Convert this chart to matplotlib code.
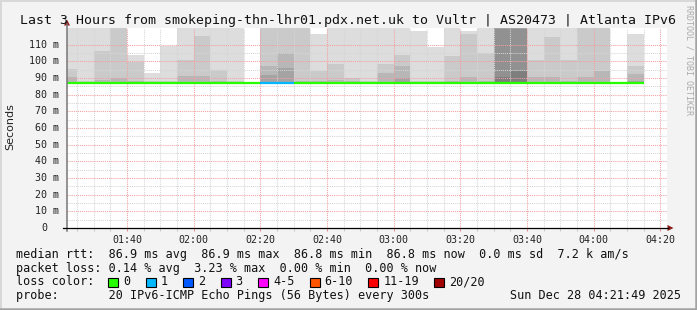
"""
SmokePing style latency chart (last 3 hours, smoke + median rtt).
Writes out.png at 697x310.
"""

import matplotlib

matplotlib.use("Agg")
import matplotlib.pyplot as plt
import numpy as np
from matplotlib.lines import Line2D
from matplotlib.patches import Polygon, Rectangle

nan = np.nan
W, H = 697, 310
MONO = "DejaVu Sans Mono"

# --- data ---------------------------------------------------------------
# 5-minute step start times (minutes after midnight)
step_times = ["01:20", "01:25", "01:30", "01:35", "01:40", "01:45", "01:50",
              "01:55", "02:00", "02:05", "02:10", "02:15", "02:20", "02:25",
              "02:30", "02:35", "02:40", "02:45", "02:50", "02:55", "03:00",
              "03:05", "03:10", "03:15", "03:20", "03:25", "03:30", "03:35",
              "03:40", "03:45", "03:50", "03:55", "04:00", "04:05", "04:10"]

# smoke layer tops in ms (outermost pair of pings first); 130 = off the top
smoke_1 = [130, 130, 130, 130, 104, 93, 109, 130, 130, 130, 130, nan, 130, 130,
           130, 116.5, 130, 130, 130, 130, 130, 118, 108.5, 130, 118, 130, 130,
           130, 130, 130, 130, 130, 130, nan, 116.4]
smoke_2 = [95.5, 88, 106, 130, 99.5, 88, 88, 101, 115, 95, 88, nan, 130, 130,
           130, 94, 98.6, 90, 88, 98.5, 104, 88, 88.5, 103, 116.5, 105, 130,
           130, 101, 114.7, 101, 130, 130, nan, 97.5]
smoke_3 = [90.5, nan, 89, 90, 88.5, nan, nan, 91, 91, 88.5, nan, nan, 97, 105,
           88, 88, 89, 88.5, nan, 93, 97, nan, nan, 88.5, 90.5, 88.5, 130, 130,
           90.5, 90.5, 88.5, 90.5, 94, nan, 92.5]
smoke_4 = [nan, nan, nan, nan, nan, nan, nan, nan, nan, nan, nan, nan, 92, 96,
           nan, nan, nan, nan, nan, nan, 90, nan, nan, nan, nan, nan, 130, 130,
           nan, nan, nan, nan, nan, nan, 88.5]
smoke_5 = [nan] * 26 + [119.3, 119.5] + [nan] * 7
smoke_6 = [nan] * 26 + [90.5, 94] + [nan] * 7
smoke_min = 86.8

median_rtt = [86.9, 86.9, 86.9, 86.9, 86.9, 86.9, 86.9, 86.9, 86.9, 86.9, 86.9,
              86.9, 86.9, 86.9, 86.9, 86.9, 86.9, 86.9, 86.9, 86.9, 86.9, 86.9,
              86.9, 86.9, 86.9, 86.9, 86.9, 86.9, 86.9, 86.9, 86.9, 86.9, 86.9,
              86.9, 86.8]
lost_pings = [0, 0, 0, 0, 0, 0, 0, 0, 0, 0, 0, 0, 1, 1, 0, 0, 0, 0, 0, 0, 0, 0,
              0, 0, 0, 0, 0, 0, 0, 0, 0, 0, 0, 0, 0]

loss_labels = ["0", "1", "2", "3", "4-5", "6-10", "11-19", "20/20"]
loss_colours = ["#26ff00", "#00b8ff", "#0059ff", "#7e00ff", "#ff00ff",
                "#ff5500", "#ff0000", "#a10000"]
loss_upper = [0, 1, 2, 3, 5, 10, 19, 20]

time_ticks = ["01:40", "02:00", "02:20", "02:40", "03:00", "03:20", "03:40",
              "04:00", "04:20"]
y_ticks = [10, 20, 30, 40, 50, 60, 70, 80, 90, 100, 110]

t_start, t_end = "01:22", "04:22"

title = ("Last 3 Hours from smokeping-thn-lhr01.pdx.net.uk to Vultr | "
         "AS20473 | Atlanta IPv6")
stats_rtt = ("median rtt:  86.9 ms avg  86.9 ms max  86.8 ms min  "
             "86.8 ms now  0.0 ms sd  7.2 k am/s")
stats_loss = "packet loss: 0.14 % avg  3.23 % max  0.00 % min  0.00 % now"
probe_text = "probe:       20 IPv6-ICMP Echo Pings (56 Bytes) every 300s"
stamp = "Sun Dec 28 04:21:49 2025"


def minutes(hhmm: str) -> float:
    h, m = hhmm.split(":")
    return int(h) * 60 + int(m)


def loss_colour(n: int) -> str:
    for up, c in zip(loss_upper, loss_colours):
        if n <= up:
            return c
    return loss_colours[-1]


def px(x: float, y: float):
    # pixel position (from top-left) -> figure fraction
    return x / W, 1 - y / H


# --- figure ------------------------------------------------------------
fig = plt.figure(figsize=(W / 100, H / 100), dpi=100, facecolor="#f3f3f3")
ax = fig.add_axes([67 / W, (H - 228) / H, 600 / W, 200 / H])
ax.set_facecolor("white")

x = np.array([minutes(t) for t in step_times], dtype=float)
greys = ["#dddddd", "#cacaca", "#b7b7b7", "#a4a4a4", "#919191", "#7e7e7e"]
for tops, colour in zip([smoke_1, smoke_2, smoke_3, smoke_4, smoke_5, smoke_6], greys):
    tops = np.array(tops, dtype=float)
    ok = ~np.isnan(tops)
    ax.bar(x[ok], tops[ok] - smoke_min, bottom=smoke_min, width=5, align="edge",
           color=colour, linewidth=0, antialiased=False, zorder=1)

ax.hlines(median_rtt, x, x + 5, colors=[loss_colour(n) for n in lost_pings],
          linewidth=1.6, zorder=3)

ax.set_xlim(minutes(t_start), minutes(t_end))
ax.set_ylim(0, 120)

ax.set_xticks([minutes(t) for t in time_ticks], time_ticks)
ax.set_xticks(np.arange(minutes("01:25"), minutes(t_end), 5), minor=True)
ax.set_yticks(y_ticks, [""] * len(y_ticks))
ax.set_yticks(np.array(y_ticks) - 5, minor=True)

ax.set_axisbelow(False)
ax.grid(which="major", color="#f2a0a0", linestyle=(0, (1, 1)), linewidth=0.75)
ax.grid(which="minor", color="#d6d6d6", linestyle=(0, (1, 1)), linewidth=0.75)
for s in ax.spines.values():
    s.set_visible(False)

ax.tick_params(axis="x", which="major", length=2, width=0.75, color="#e89090",
               pad=2.9, labelsize=7.2, labelcolor="#222222")
ax.tick_params(axis="x", which="minor", length=2, width=0.75, color="#c8c8c8")
ax.tick_params(axis="y", which="both", length=0)
for lab in ax.get_xticklabels():
    lab.set_family(MONO)

ytf = ax.get_yaxis_transform()
for v in y_ticks:
    ax.text(-8 / 600, v, f"{v} m", transform=ytf, ha="right", va="center",
            family=MONO, fontsize=7.2, color="#222222")
ax.text(-20 / 600, 0, "0", transform=ytf, ha="right", va="center",
        family=MONO, fontsize=7.2, color="#222222")

# axis lines with arrow heads
fig.add_artist(Line2D(*zip(px(67, 231), px(67, 24)), transform=fig.transFigure,
                      color="#777777", linewidth=1.1))
fig.add_artist(Line2D(*zip(px(63, 228), px(668, 228)), transform=fig.transFigure,
                      color="black", linewidth=0.9))
fig.add_artist(Polygon([px(64, 25.5), px(70, 25.5), px(67, 19.5)], closed=True,
                       transform=fig.transFigure, color="#8b1a1a", linewidth=0))
fig.add_artist(Polygon([px(667.5, 225), px(667.5, 231), px(673.5, 228)], closed=True,
                       transform=fig.transFigure, color="#8b1a1a", linewidth=0))

# texts
fig.text(*px(348, 24), title, ha="center", va="baseline", family=MONO,
         fontsize=9.57, color="#111111")
fig.text(*px(10.5, 127), "Seconds", rotation=90, ha="center", va="center",
         family="DejaVu Sans", fontsize=8, color="#222222")
fig.text(*px(689, 5), "RRDTOOL / TOBI OETIKER", rotation=-90, ha="center",
         va="top", family=MONO, fontsize=6, color="#aaaaaa")

fig.text(*px(16, 258.3), stats_rtt, va="baseline", family=MONO, fontsize=8.5,
         color="#111111")
fig.text(*px(16, 271.8), stats_loss, va="baseline", family=MONO, fontsize=8.5,
         color="#111111")
fig.text(*px(16, 285.4), "loss color:", va="baseline", family=MONO, fontsize=8.5,
         color="#111111")
fig.text(*px(16, 299), probe_text, va="baseline", family=MONO, fontsize=8.5,
         color="#111111")
fig.text(*px(681, 299), stamp, ha="right", va="baseline", family=MONO,
         fontsize=8.5, color="#111111")

char_w = 8.5 * 100 / 72 * 0.602
bx = 108.3
for lab, colour in zip(loss_labels, loss_colours):
    x0, y0 = px(bx, 287)
    fig.add_artist(Rectangle((x0, y0), 10 / W, 9 / H, transform=fig.transFigure,
                             facecolor=colour, edgecolor="black", linewidth=0.8))
    fig.text(*px(bx + 15, 285.4), lab, va="baseline", family=MONO, fontsize=8.5,
             color="#111111")
    bx = bx + 15 + len(lab) * char_w + 15.3

# frame
fig.add_artist(Line2D([0, 1], [1 - 0.5 / H] * 2, transform=fig.transFigure,
                      color="#d8d8d8", linewidth=1.4))
fig.add_artist(Line2D([0.5 / W] * 2, [0, 1], transform=fig.transFigure,
                      color="#d8d8d8", linewidth=1.4))
fig.add_artist(Line2D([0, 1], [1.2 / H] * 2, transform=fig.transFigure,
                      color="#a3a3a3", linewidth=1.8))
fig.add_artist(Line2D([1 - 1.2 / W] * 2, [0, 1], transform=fig.transFigure,
                      color="#a3a3a3", linewidth=1.8))

fig.savefig("out.png", dpi=100, facecolor=fig.get_facecolor())
